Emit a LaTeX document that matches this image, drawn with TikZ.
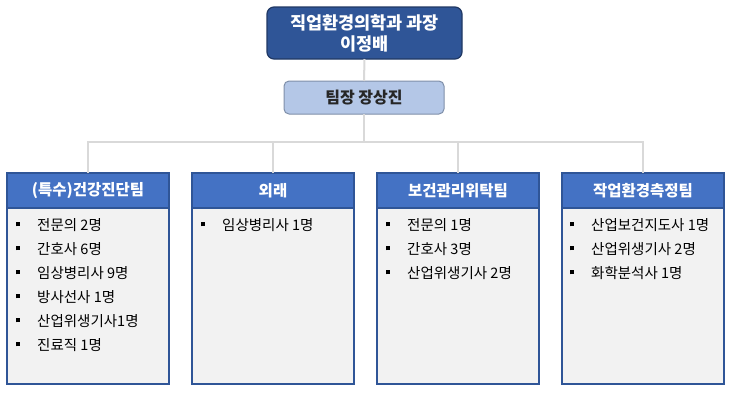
\documentclass[tikz,border=0pt]{standalone}
\usepackage{fontspec}
\setmainfont{Noto Sans CJK KR}
\definecolor{topfill}{HTML}{2F5597}
\definecolor{topline}{HTML}{203864}
\definecolor{leadfill}{HTML}{B4C7E7}
\definecolor{leadline}{HTML}{7F8FA9}
\definecolor{headfill}{HTML}{4472C4}
\definecolor{boxline}{HTML}{2F5597}
\definecolor{bodyfill}{HTML}{F2F2F2}
\definecolor{conn}{HTML}{D9D9D9}
\definecolor{leadtext}{HTML}{262626}
\begin{document}
\begin{tikzpicture}[x=1pt,y=-1pt,
  topbox/.style={draw=topline,fill=topfill,line width=1.2pt,rounded corners=7pt,
    minimum width=195pt,minimum height=52pt,text=white,font=\fontsize{17.5}{21}\selectfont\bfseries,
    align=center,inner sep=0pt,outer sep=0pt},
  leadbox/.style={draw=leadline,fill=leadfill,line width=1pt,rounded corners=5pt,
    minimum width=160pt,minimum height=33pt,text=leadtext,font=\fontsize{16}{18}\selectfont\bfseries,
    inner sep=0pt,outer sep=0pt},
  headbox/.style={draw=boxline,fill=headfill,line width=1.1pt,minimum width=162pt,minimum height=35pt,
    text=white,font=\fontsize{15.5}{17}\selectfont\bfseries,inner sep=0pt,outer sep=0pt,anchor=north west},
  bodybox/.style={draw=boxline,fill=bodyfill,line width=1.1pt,minimum width=162pt,minimum height=176pt,
    inner sep=0pt,outer sep=0pt,anchor=north},
  item/.style={anchor=west,inner sep=0pt,font=\fontsize{14.5}{16}\selectfont,text=black},
  connector/.style={draw=conn,line width=2pt}
]
\useasboundingbox (0,0) rectangle (733,400);

\node[topbox] (top) at (364.5,33) {직업환경의학과 과장\\이정배};
\node[leadbox] (lead) at (364,97.5) {팀장 장상진};

\node[headbox] (h1) at (7,173) {(특수)건강진단팀};
\node[headbox] (h2) at (192,173) {외래};
\node[headbox] (h3) at (377,173) {보건관리위탁팀};
\node[headbox] (h4) at (562,173) {작업환경측정팀};

\node[bodybox] (b1) at (h1.south) {};
\node[bodybox] (b2) at (h2.south) {};
\node[bodybox] (b3) at (h3.south) {};
\node[bodybox] (b4) at (h4.south) {};

\coordinate (bus) at (364,142);
\draw[connector] (top.south) -- (lead.north);
\draw[connector] (lead.south) -- (bus);
\draw[connector] (h1.north) |- (bus) -| (h4.north);
\draw[connector] (h2.north) -- (h2.north |- bus);
\draw[connector] (h3.north) -- (h3.north |- bus);

\newcommand{\blt}{\rule[4pt]{4pt}{4pt}\hspace{17pt}}
\foreach \t [count=\i] in {전문의 2명,간호사 6명,임상병리사 9명,방사선사 1명,산업위생기사1명,진료직 1명}
  \node[item] (a\i) at (16,{201+24*\i}) {\blt\t};
\foreach \t [count=\i] in {임상병리사 1명}
  \node[item] (c\i) at (201,{201+24*\i}) {\blt\t};
\foreach \t [count=\i] in {전문의 1명,간호사 3명,산업위생기사 2명}
  \node[item] (d\i) at (386,{201+24*\i}) {\blt\t};
\foreach \t [count=\i] in {산업보건지도사 1명,산업위생기사 2명,화학분석사 1명}
  \node[item] (e\i) at (570,{201+24*\i}) {\blt\t};
\end{tikzpicture}
\end{document}
